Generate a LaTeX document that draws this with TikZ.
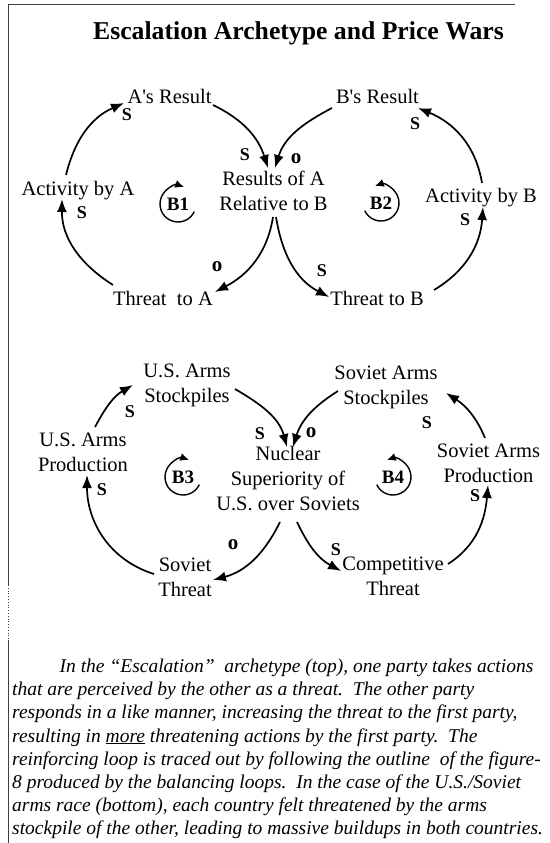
\documentclass[tikz,border=0pt]{standalone}
\usepackage{fontspec}
\setmainfont{Liberation Serif}[Ligatures=TeXOff]
\usetikzlibrary{arrows.meta}
\begin{document}
\begin{tikzpicture}[x=1pt,y=1pt,
  lbl/.style={font=\fontsize{20.5}{25}\selectfont, align=center, inner sep=0pt},
  pol/.style={font=\fontsize{18}{18}\selectfont\bfseries, inner sep=0pt},
  polo/.style={font=\fontsize{21}{21}\selectfont\bfseries, inner sep=0pt},
  link/.style={line width=1.7pt, -{Latex[length=13pt,width=10pt]}},
  loopsym/.style={line width=1.4pt, -{Latex[length=9pt,width=8pt]}},
  loopname/.style={font=\fontsize{19}{19}\selectfont\bfseries, inner sep=0pt},
  captxt/.style={font=\fontsize{19.5}{23.2}\selectfont\itshape, inner sep=0pt, anchor=base west},
  framel/.style={line width=0.8pt, black!75}
]
\useasboundingbox (0,0) rectangle (549,-843);
% frame
\draw[framel] (8,-4) -- (515,-4);
\draw[framel] (8,-4) -- (8,-585);
\draw[framel, dotted] (8,-585) -- (8,-640);
\draw[framel] (8,-640) -- (8,-843);
% title
\node[font=\fontsize{25.7}{30}\selectfont\bfseries, inner sep=0pt, anchor=base] (title) at (298.5,-40) {Escalation Archetype and Price Wars};

% ---------- top diagram ----------
\node[lbl, anchor=base] (aRes) at (169.5,-103) {A's Result};
\node[lbl, anchor=base] (bRes) at (377.5,-103) {B's Result};
\node[lbl, anchor=base] (actA) at (78,-195) {Activity by A};
\node[lbl] (res) at (273.5,-190.5) {Results of A\\Relative to B};
\node[lbl, anchor=base] (actB) at (481,-202) {Activity by B};
\node[lbl, anchor=base] (thrA) at (163,-305) {Threat\ \ to A};
\node[lbl, anchor=base] (thrB) at (377,-305) {Threat to B};
\node[loopname] (b1) at (178,-204) {B1};
\node[loopname] (b2) at (381,-203) {B2};
\draw[loopsym] ([shift={(-25:18)}]b1.center) arc[start angle=-25, end angle=-290, radius=18];
\draw[loopsym] ([shift={(205:18)}]b2.center) arc[start angle=205, end angle=470, radius=18];

\draw[link] ([shift={(-12,20)}]actA.base) to[out=76.1, in=203.9] ([shift={(-45.5,0)}]aRes.base);
\draw[link] ([shift={(43.5,-2)}]aRes.base) to[out=-25.8, in=107.6] ([shift={(-5.5,22.5)}]res.center);
\draw[link] ([shift={(-45.5,-5)}]bRes.base) to[out=207.6, in=73] ([shift={(1.5,22.5)}]res.center);
\draw[link] ([shift={(-0.5,-26.5)}]res.center) to[out=-99.1, in=27.6] ([shift={(52,13)}]thrA.base);
\draw[link] ([shift={(2.5,-26.5)}]res.center) to[out=279.3, in=152.3] ([shift={(-48,8)}]thrB.base);
\draw[link] ([shift={(-50,20)}]thrA.base) to[out=147.6, in=269.5] ([shift={(-16,-4)}]actA.base);
\draw[link] ([shift={(57,15)}]thrB.base) to[out=31, in=-93.9] ([shift={(2,-5)}]actB.base);
\draw[link] ([shift={(1,19)}]actB.base) to[out=99.5, in=-22.4] ([shift={(40.5,-5)}]bRes.base);

\node[pol] (s1) at (127,-115) {S};
\node[pol] (s2) at (245,-155) {S};
\node[polo] (o1) at (296,-159) {o};
\node[pol] (s3) at (415,-124) {S};
\node[pol] (s4) at (82,-213) {S};
\node[polo] (o2) at (217,-267) {o};
\node[pol] (s5) at (322,-271) {S};
\node[pol] (s6) at (465,-220) {S};

% ---------- bottom diagram ----------
\node[lbl] (usStock) at (187,-385.8) {U.S. Arms\\Stockpiles};
\node[lbl] (svStock) at (386,-387) {Soviet Arms\\Stockpiles};
\node[lbl] (usProd) at (83,-452.5) {U.S. Arms\\Production};
\node[lbl] (nuc) at (288,-479) {Nuclear\\Superiority of\\U.S. over Soviets};
\node[lbl] (svProd) at (488.5,-463.5) {Soviet Arms\\Production};
\node[lbl] (svThr) at (185,-577.5) {Soviet\\Threat};
\node[lbl] (compThr) at (393,-576.5) {Competitive\\Threat};
\node[loopname] (b3) at (183,-477) {B3};
\node[loopname] (b4) at (393,-477) {B4};
\draw[loopsym] ([shift={(-25:18)}]b3.center) arc[start angle=-25, end angle=-290, radius=18];
\draw[loopsym] ([shift={(205:18)}]b4.center) arc[start angle=205, end angle=470, radius=18];

\draw[link] ([shift={(12,25.5)}]usProd.center) to[out=61.9, in=210] ([shift={(-54,0.8)}]usStock.center);
\draw[link] ([shift={(48,-3.2)}]usStock.center) to[out=-30.2, in=105.3] ([shift={(-1,32)}]nuc.center);
\draw[link] ([shift={(-48,-4)}]svStock.center) to[out=212.1, in=73.1] ([shift={(5,32)}]nuc.center);
\draw[link] ([shift={(-8,-43)}]nuc.center) to[out=-116.3, in=14.9] ([shift={(28,-2.5)}]svThr.center);
\draw[link] ([shift={(9,-43)}]nuc.center) to[out=295.3, in=151.5] ([shift={(-52,5.5)}]compThr.center);
\draw[link] ([shift={(-31,3.5)}]svThr.center) to[out=162.6, in=270] ([shift={(4,-22.5)}]usProd.center);
\draw[link] ([shift={(55,12.5)}]compThr.center) to[out=32.8, in=-94.8] ([shift={(-0.5,-21.5)}]svProd.center);
\draw[link] ([shift={(-3.5,25.5)}]svProd.center) to[out=112.7, in=-32.7] ([shift={(60,-6)}]svStock.center);

\node[pol] (s7) at (130,-412) {S};
\node[pol] (s8) at (260,-434) {S};
\node[polo] (o3) at (311,-433) {o};
\node[pol] (s9) at (427,-423) {S};
\node[pol] (s10) at (102,-490) {S};
\node[polo] (o4) at (233,-545) {o};
\node[pol] (s11) at (336,-550) {S};
\node[pol] (s12) at (475,-496) {S};

% ---------- caption ----------
\node[captxt] (c1) at (59.5,-672.5) {In the “Escalation”\ \ archetype (top), one party takes actions};
\node[captxt] (c2) at (12,-695.7) {that are perceived by the other as a threat.\ \ The other party};
\node[captxt] (c3) at (12,-718.9) {responds in a like manner, increasing the threat to the first party,};
\node[captxt] (c4) at (12,-742.1) {resulting in \underline{more} threatening actions by the first party.\ \ The};
\node[captxt] (c5) at (12,-765.3) {reinforcing loop is traced out by following the outline\ \ of the figure-};
\node[captxt] (c6) at (12,-788.5) {8 produced by the balancing loops.\ \ In the case of the U.S./Soviet};
\node[captxt] (c7) at (12,-811.7) {arms race (bottom), each country felt threatened by the arms};
\node[captxt] (c8) at (12,-834.9) {stockpile of the other, leading to massive buildups in both countries.};
\end{tikzpicture}
\end{document}
